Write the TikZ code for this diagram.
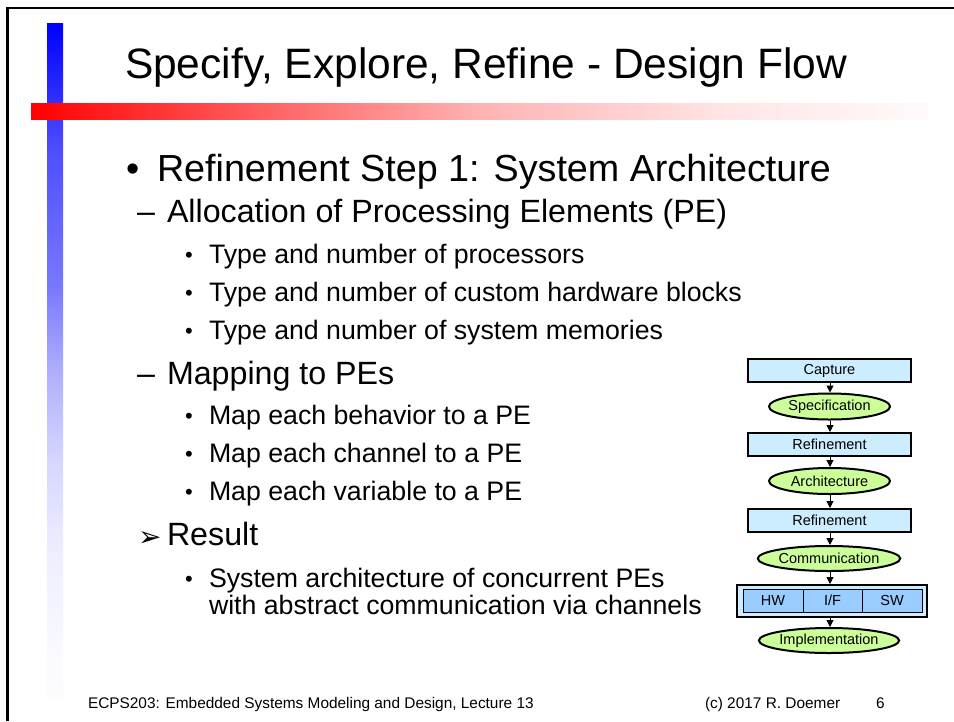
\documentclass[tikz,border=0pt]{standalone}
\usepackage{fontspec}
\setmainfont{Liberation Sans}
\newfontfamily\symfont{DejaVu Sans}
\usetikzlibrary{arrows.meta,shapes.geometric}

\definecolor{boxblue}{RGB}{204,236,255}
\definecolor{cellblue}{RGB}{153,204,255}
\definecolor{ellgreen}{RGB}{204,255,153}

% fading accent bars of the slide template
% (the path is mapped onto the 25bp..75bp part of a shading)
\pgfdeclarehorizontalshading{redfade}{100bp}{
  color(0bp)=(red);
  color(25bp)=(red);
  color(37bp)=(red!65!white);
  color(50bp)=(red!30!white);
  color(64bp)=(red!10!white);
  color(75bp)=(red!2!white);
  color(100bp)=(red!2!white)}
\pgfdeclareverticalshading{bluefade}{100bp}{
  color(0bp)=(blue!1!white);
  color(25bp)=(blue!1!white);
  color(28bp)=(blue!2!white);
  color(36bp)=(blue!7!white);
  color(42.5bp)=(blue!16!white);
  color(49bp)=(blue!31!white);
  color(55.5bp)=(blue!53!white);
  color(65.5bp)=(blue!69!white);
  color(75bp)=(blue);
  color(100bp)=(blue)}

\tikzset{
  txt/.style={anchor=base west, inner sep=0pt, outer sep=0pt},
  titletxt/.style={txt, font=\fontsize{42.5}{48}\selectfont},
  lvlone/.style={txt, font=\fontsize{37.7}{42}\selectfont},
  lvltwo/.style={txt, font=\fontsize{32.2}{36}\selectfont},
  lvlthree/.style={txt, font=\fontsize{26.7}{30}\selectfont},
  dotthree/.style={txt, font=\fontsize{22}{26}\selectfont},
  foottxt/.style={txt, font=\fontsize{15.4}{18}\selectfont},
  flowfont/.style={font=\fontsize{14.5}{16}\selectfont},
  flowbox/.style={draw, line width=2pt, fill=boxblue, rectangle,
    minimum width=163pt, minimum height=23pt, inner sep=0pt, flowfont},
  flowell/.style={draw, line width=2pt, fill=ellgreen, ellipse,
    minimum width=121pt, minimum height=26pt, inner sep=0pt, flowfont},
  cell/.style={draw, line width=0.9pt, fill=cellblue, rectangle,
    minimum height=23pt, inner sep=0pt, flowfont},
  flowarr/.style={-{Triangle[length=7pt,width=7pt]}, line width=1pt}
}

\begin{document}
\begin{tikzpicture}[x=1pt, y=-1pt]
\useasboundingbox (0,0) rectangle (954,721);
\fill[white] (0,0) rectangle (954,721);

% slide frame
\draw[line width=2.6pt] (7.5,721) -- (7.5,8) -- (954,8);

% accent bars
\shade[shading=bluefade] (47,23) rectangle (63,698);
\shade[shading=redfade] (31,103) rectangle (928,119);

% title
\node[titletxt] (title) at (125,78) {Specify, Explore, Refine - Design Flow};

% body text
\node[lvlone] (b1) at (126,181) {•};
\node[lvlone] (t1) at (157,181) {Refinement Step 1: System Architecture};

\node[lvltwo] (d1) at (137,222) {–};
\node[lvltwo] (t2) at (167,222) {Allocation of Processing Elements (PE)};

\node[dotthree] (b31) at (185,262) {•};
\node[lvlthree] (t31) at (209,263) {Type and number of processors};
\node[dotthree] (b32) at (185,300) {•};
\node[lvlthree] (t32) at (209,301) {Type and number of custom hardware blocks};
\node[dotthree] (b33) at (185,338) {•};
\node[lvlthree] (t33) at (209,339) {Type and number of system memories};

\node[lvltwo] (d2) at (137,384) {–};
\node[lvltwo] (t4) at (167,384) {Mapping to PEs};

\node[dotthree] (b41) at (185,423) {•};
\node[lvlthree] (t41) at (209,424) {Map each behavior to a PE};
\node[dotthree] (b42) at (185,461) {•};
\node[lvlthree] (t42) at (209,462) {Map each channel to a PE};
\node[dotthree] (b43) at (185,499) {•};
\node[lvlthree] (t43) at (209,500) {Map each variable to a PE};

\node[txt, font=\symfont\fontsize{28}{30}\selectfont] (a5) at (138,546) {➢};
\node[lvltwo] (t5) at (167,545) {Result};

\node[dotthree] (b51) at (185,586) {•};
\node[lvlthree] (t51) at (209,587) {System architecture of concurrent PEs};
\node[lvlthree] (t52) at (209,614) {with abstract communication via channels};

% footer
\node[foottxt] (f1) at (88,708) {ECPS203: Embedded Systems Modeling and Design, Lecture 13};
\node[foottxt] (f2) at (705,708) {(c) 2017 R. Doemer};
\node[foottxt] (f3) at (876,708) {6};

% design flow
\node[flowbox] (cap) at (829.5,370.5) {Capture};
\node[flowell] (spec) at (829.5,406.5) {Specification};
\node[flowbox] (ref1) at (829.5,444.5) {Refinement};
\node[flowell] (arch) at (829.5,481) {Architecture};
\node[flowbox] (ref2) at (829.5,520.5) {Refinement};
\node[flowell, minimum width=120pt, minimum height=25pt] (comm) at (829,558.5) {Communication};
\node[flowbox, minimum width=190pt, minimum height=32pt] (implbox) at (832,601) {};
\node[cell, minimum width=60pt] (hw) at (773,600.5) {HW};
\node[cell, minimum width=59pt] (if) at (832.5,600.5) {I/F};
\node[cell, minimum width=60pt] (sw) at (892,600.5) {SW};
\node[flowell, minimum width=120pt, minimum height=25pt] (impl) at (829,640.5) {Implementation};

\draw[flowarr] (cap.south -| 830,0) -- (spec.north -| 830,0);
\draw[flowarr] (spec.south -| 830,0) -- (ref1.north -| 830,0);
\draw[flowarr] (ref1.south -| 830,0) -- (arch.north -| 830,0);
\draw[flowarr] (arch.south -| 830,0) -- (ref2.north -| 830,0);
\draw[flowarr] (ref2.south -| 830,0) -- (comm.north -| 830,0);
\draw[flowarr] (comm.south -| 830,0) -- (implbox.north -| 830,0);
\draw[flowarr] (implbox.south -| 830,0) -- (impl.north -| 830,0);
\end{tikzpicture}
\end{document}
